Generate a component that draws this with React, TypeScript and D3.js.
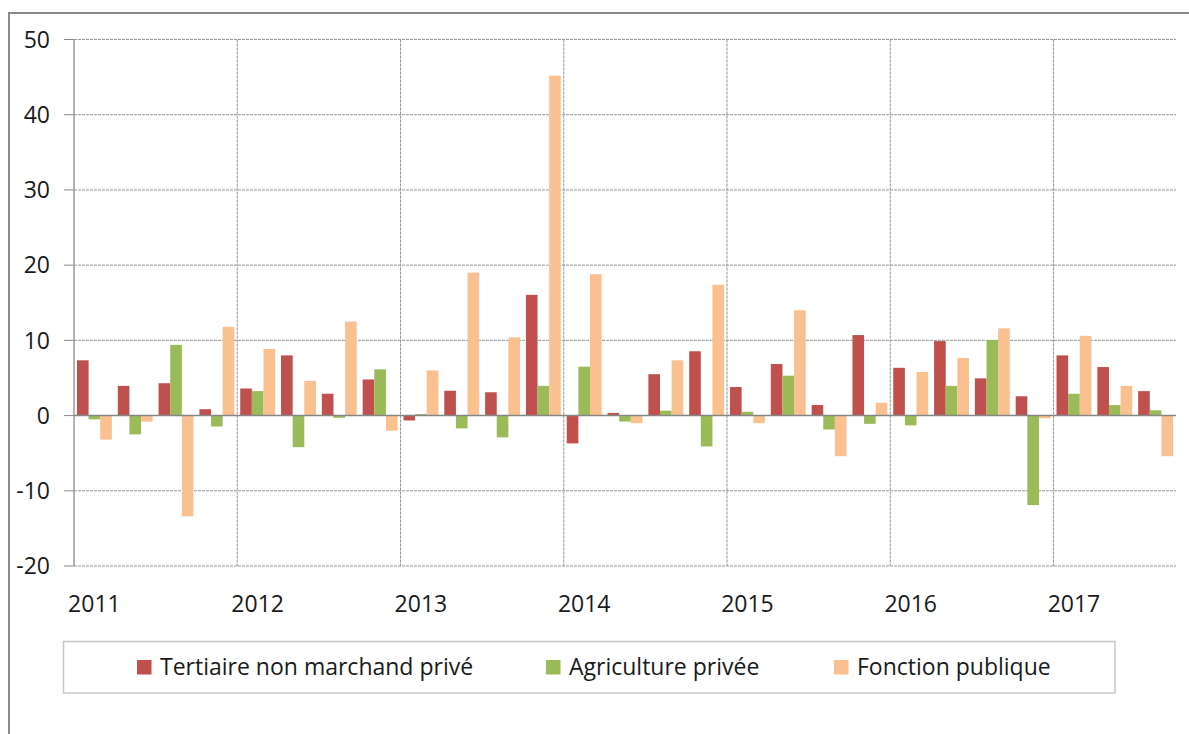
import React from "react";
import * as d3 from "d3";

const quarters = [
  "2011T1","2011T2","2011T3","2011T4",
  "2012T1","2012T2","2012T3","2012T4",
  "2013T1","2013T2","2013T3","2013T4",
  "2014T1","2014T2","2014T3","2014T4",
  "2015T1","2015T2","2015T3","2015T4",
  "2016T1","2016T2","2016T3","2016T4",
  "2017T1","2017T2","2017T3",
];
const yearLabels = ["2011","2012","2013","2014","2015","2016","2017"];
const seriesNames = ["Tertiaire non marchand privé", "Agriculture privée", "Fonction publique"];
const seriesColors = ["#C0504D", "#9BBB59", "#FAC090"];

const tertiaire = [7.35, 3.95, 4.3, 0.85, 3.6, 8.0, 2.9, 4.8, -0.65, 3.3, 3.1, 16.05, -3.7, 0.35, 5.5, 8.55, 3.8, 6.85, 1.4, 10.7, 6.35, 9.9, 4.95, 2.57, 8.0, 6.45, 3.25];
const agriculture = [-0.5, -2.5, 9.4, -1.45, 3.25, -4.2, -0.3, 6.15, 0.2, -1.7, -2.9, 3.95, 6.5, -0.8, 0.65, -4.1, 0.5, 5.3, -1.85, -1.1, -1.3, 3.95, 10.05, -11.9, 2.9, 1.4, 0.7];
const fonction = [-3.2, -0.8, -13.4, 11.8, 8.85, 4.6, 12.5, -2.0, 6.0, 19.0, 10.4, 45.2, 18.8, -1.0, 7.35, 17.4, -1.0, 14.0, -5.4, 1.7, 5.8, 7.65, 11.6, -0.35, 10.6, 3.95, -5.4];
const yTicks = [50, 40, 30, 20, 10, 0, -10, -20];

const allSeries = [tertiaire, agriculture, fonction];

export default function App() {
  const W = 1189, H = 734;
  const left = 74, right = 1176, top = 39.5, bottom = 566;
  const x = d3.scaleBand<string>().domain(quarters).range([left, right]).paddingInner(0).paddingOuter(0);
  const inner = d3.scaleBand<number>().domain([0, 1, 2]).range([0, x.bandwidth()]).paddingInner(0).paddingOuter(0.255);
  const y = d3.scaleLinear().domain([-20, 50]).range([bottom, top]);
  const font = "'Open Sans', sans-serif";
  const fs = 23;
  const gridColor = "#959595";

  const yearStarts = yearLabels.map((_, i) => quarters[i * 4]);

  const legendItems = [
    { sx: 137, tx: 160 },
    { sx: 546, tx: 569 },
    { sx: 834, tx: 857 },
  ];

  return (
    <svg width={W} height={H} style={{ position: "absolute", left: 0, top: 0, background: "#fff" }}>
      <rect x={9} y={13} width={1300} height={900} fill="#fff" stroke="#8a8a8a" strokeWidth={2} />
      {yTicks.map((t) => (
        <g key={"h" + t}>
          {t !== 0 && (
            <line x1={left} x2={right} y1={y(t)} y2={y(t)} stroke={gridColor} strokeWidth={1} strokeDasharray="3,1" />
          )}
          <line x1={64} x2={left} y1={y(t)} y2={y(t)} stroke="#8a8a8a" strokeWidth={1} />
          <text x={50} y={y(t)} dy="0.36em" textAnchor="end" fontFamily={font} fontSize={fs} fill="#1a1a1a">
            {t}
          </text>
        </g>
      ))}
      {yearStarts.slice(1).map((q) => (
        <line key={"v" + q} x1={x(q)!} x2={x(q)!} y1={top} y2={bottom} stroke={gridColor} strokeWidth={1} strokeDasharray="3,1" />
      ))}
      {allSeries.map((vals, si) =>
        vals.map((v, i) => {
          const bx = x(quarters[i])! + inner(si)!;
          const y0 = y(0), y1 = y(v);
          return (
            <rect
              key={si + "-" + i}
              x={bx}
              y={Math.min(y0, y1)}
              width={inner.bandwidth()}
              height={Math.abs(y1 - y0)}
              fill={seriesColors[si]}
            />
          );
        })
      )}
      <line x1={left} x2={left} y1={top} y2={bottom} stroke="#9a9a9a" strokeWidth={1.5} />
      <line x1={left} x2={right} y1={y(0)} y2={y(0)} stroke="#868686" strokeWidth={1.5} />
      {yearStarts.map((q, i) => (
        <text key={"xl" + i} x={x(q)! + x.bandwidth() / 2} y={612} textAnchor="middle" fontFamily={font} fontSize={fs} fill="#1a1a1a">
          {yearLabels[i]}
        </text>
      ))}
      <rect x={63.5} y={641.5} width={1051.5} height={51.5} fill="#fff" stroke="#c8c8c8" strokeWidth={1.5} />
      {legendItems.map((it, i) => (
        <g key={"lg" + i}>
          <rect x={it.sx} y={660} width={14.5} height={14.5} fill={seriesColors[i]} />
          <text x={it.tx} y={675} fontFamily={font} fontSize={fs} fill="#1a1a1a">
            {seriesNames[i]}
          </text>
        </g>
      ))}
    </svg>
  );
}
